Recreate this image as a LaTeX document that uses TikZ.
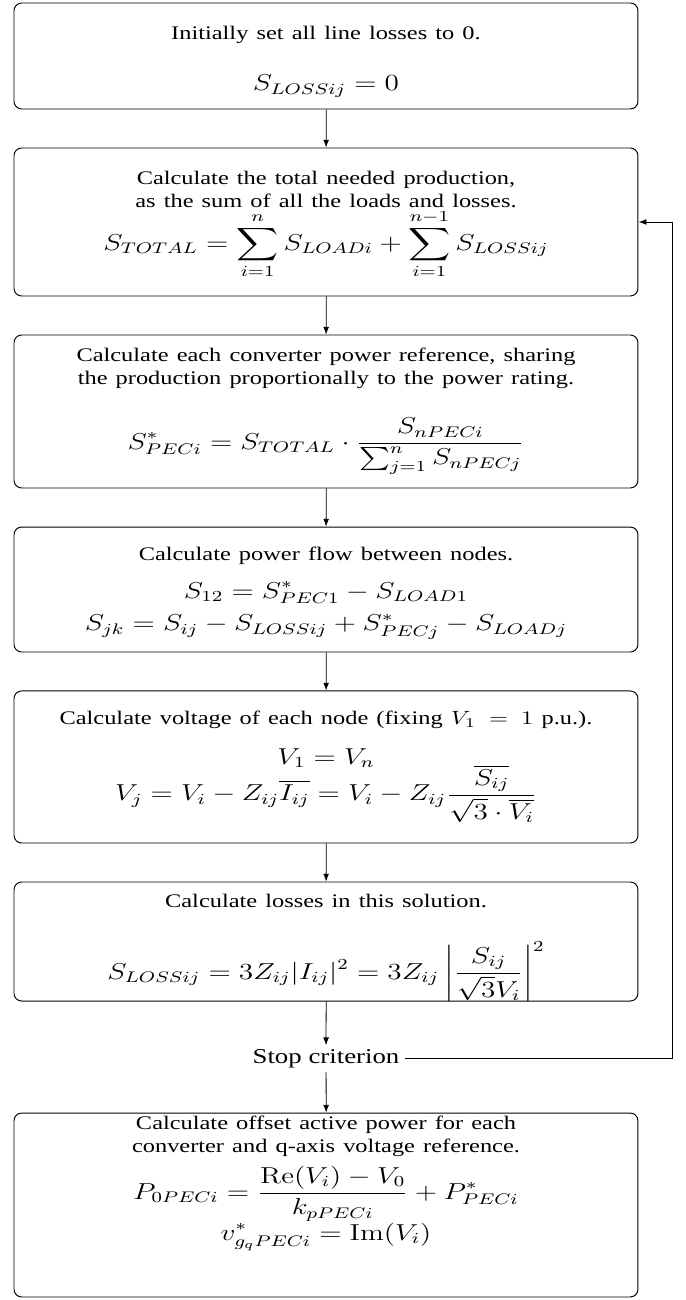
\documentclass[tikz,border=0pt]{standalone}
\usepackage{amsmath}
\usepackage[no-math]{fontspec}
\setmainfont{Liberation Serif}
\usepackage{tikz}
\usetikzlibrary{arrows.meta}
\tikzset{
  blk/.style={rectangle,rounded corners=4pt,draw=black,line width=.5pt,text width=255.9pt,align=center,inner xsep=0pt,inner ysep=0pt},
  flw/.style={-{Latex[length=4pt,width=3pt]},line width=.4pt},
  stp/.style={font=\fontsize{11pt}{13pt}\selectfont,inner sep=2pt},
}
% formulas are set a size up from the box text, and kept in one box
\newcommand{\beq}[1]{\mbox{\large$\displaystyle #1$}}

\begin{document}
\begin{tikzpicture}[xscale=1.27,transform shape]
\useasboundingbox (0,0) rectangle (9.887,-23.799);
\node[blk,minimum height=55.2pt] (init) at (4.699,-1.025)
  {\rule{0pt}{13pt}Initially set all line losses to 0.\\[14.5pt]
   \beq{S_{LOSSij}=0}};
\node[blk,minimum height=77.1pt] (total) at (4.699,-4.064)
  {\rule{0pt}{10pt}Calculate the total needed production,\\
   as the sum of all the loads and losses.\\[0pt]
   \beq{S_{TOTAL}=\sum_{i=1}^{n}S_{LOADi}+\sum_{i=1}^{n-1}S_{LOSSij}}};
\node[blk,minimum height=79.7pt] (share) at (4.699,-7.533)
  {Calculate each converter power reference, sharing\\
   the production proportionally to the power rating.\\[14pt]
   \beq{S^*_{PECi}=S_{TOTAL}\cdot\frac{S_{nPECi}}{\sum_{j=1}^{n}S_{nPECj}}}\rule[-6pt]{0pt}{6pt}};
\node[blk,minimum height=65.1pt] (flow) at (4.699,-10.792)
  {\rule{0pt}{11pt}Calculate power flow between nodes.\\[7.5pt]
   \beq{S_{12}=S^*_{PEC1}-S_{LOAD1}}\\[5pt]
   \beq{S_{jk}=S_{ij}-S_{LOSSij}+S^*_{PECj}-S_{LOADj}}};
\node[blk,minimum height=79.2pt] (volt) at (4.699,-14.041)
  {Calculate voltage of each node (fixing $V_1 = 1$ p.u.).\\[8.5pt]
   \beq{V_1=V_n}\\[-2.5pt]
   \beq{V_j=V_i-Z_{ij}\overline{I_{ij}}=V_i-Z_{ij}\frac{\overline{S_{ij}}}{\sqrt{3}\cdot\overline{V_i}}}};
\node[blk,minimum height=62.0pt] (loss) at (4.699,-17.236)
  {\rule{0pt}{13pt}Calculate losses in this solution.\\[17pt]
   \beq{S_{LOSSij}=3Z_{ij}|I_{ij}|^2=3Z_{ij}\left|\frac{S_{ij}}{\sqrt{3}V_i}\right|^2}};
\node[stp] (stop) at (4.699,-19.380) {Stop criterion};
\node[blk,minimum height=95.8pt] (offset) at (4.699,-22.060)
  {Calculate offset active power for each\\
   converter and q-axis voltage reference.\\[4pt]
   \beq{P_{0PECi}=\frac{\mathrm{Re}(V_i)-V_0}{k_{pPECi}}+P^*_{PECi}}\\
   \beq{v^*_{g_qPECi}=\mathrm{Im}(V_i)}\rule[-28pt]{0pt}{28pt}};
\coordinate (back) at (9.686,-19.380);
\draw[flw] (init) -- (total);
\draw[flw] (total) -- (share);
\draw[flw] (share) -- (flow);
\draw[flw] (flow) -- (volt);
\draw[flw] (volt) -- (loss);
\draw[flw] (loss) -- (stop);
\draw[flw] (stop) -- (offset);
\draw[flw] (stop.east) -- (back) |- (total.east);
\end{tikzpicture}
\end{document}
